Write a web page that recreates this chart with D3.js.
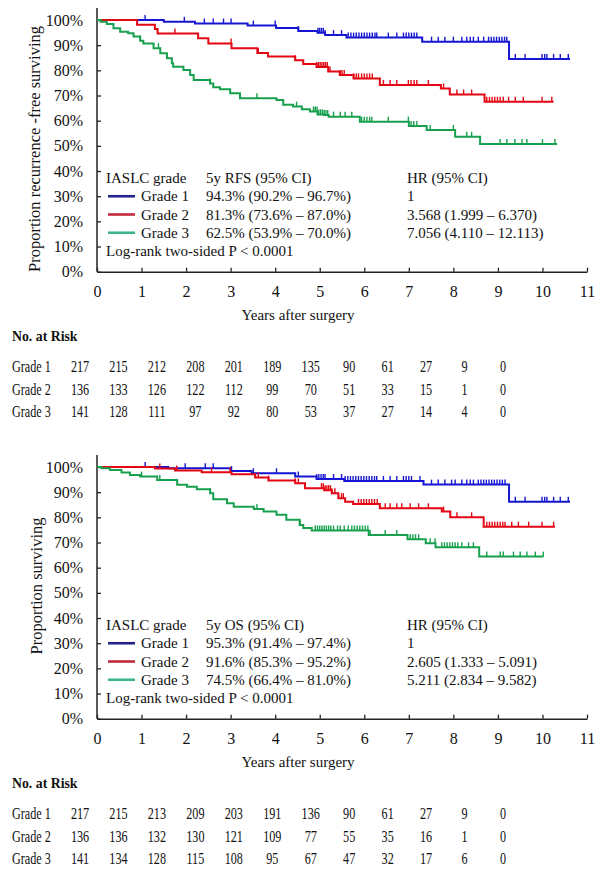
<!DOCTYPE html>
<html><head><meta charset="utf-8">
<script src="https://cdn.jsdelivr.net/npm/d3@7"></script>
<style>
body{margin:0;background:#fff}
svg{display:block}
text{font-family:"Liberation Serif","Times New Roman",serif;fill:#111}
</style>
</head><body>
<svg id="chart" width="608" height="876"></svg>
<script>
// ---------- shared ----------
const xTicks = [0,1,2,3,4,5,6,7,8,9,10,11];
const yTicks = [0,10,20,30,40,50,60,70,80,90,100];
const gradeNames = ["Grade 1","Grade 2","Grade 3"];
const riskTimes = [0,1,2,3,4,5,6,7,8,9,10,11];

// ---------- Panel A: recurrence-free survival ----------
const rfsG1Time = [0,1.50,2.20,3.38,4.02,4.52,4.95,5.12,5.60,7.30,9.25];
const rfsG1Surv = [100,99.3,98.6,97.8,96.8,95.6,94.9,94.0,93.0,91.4,84.5];
const rfsG1End = 10.62;
const rfsG1Cens = [1.08,1.96,2.41,2.61,2.84,3.01,3.51,4.00,4.52,4.96,5.00,5.04,5.08,5.12,5.31,5.49,5.64,5.70,5.76,5.82,5.88,5.94,6.00,6.06,6.12,6.18,6.24,6.28,6.54,6.73,6.88,6.94,7.00,7.06,7.12,7.18,7.51,7.66,7.81,8.00,8.19,8.30,8.38,8.45,8.56,8.68,8.79,8.85,8.91,8.97,9.03,9.09,9.15,9.20,9.39,9.61,9.99,10.05,10.10,10.25,10.40,10.58];

const rfsG2Time = [0,0.90,1.30,1.36,2.27,2.50,3.02,3.60,3.84,4.45,4.63,4.93,5.19,5.45,5.76,6.35,7.72,7.92,8.70];
const rfsG2Surv = [100,98.1,96.4,94.6,92.7,90.7,88.8,86.9,85.5,84.0,82.5,81.3,79.5,78.1,76.8,74.2,72.8,70.4,67.5];
const rfsG2End = 10.25;
const rfsG2Cens = [1.75,3.01,3.62,4.45,4.93,4.97,5.01,5.05,5.09,5.13,5.17,5.23,5.46,5.50,5.55,5.76,5.82,5.87,5.94,6.00,6.06,6.12,6.18,6.43,6.58,6.73,6.99,7.05,7.12,7.18,7.44,7.78,8.08,8.23,8.41,8.75,8.81,8.87,8.93,8.99,9.05,9.12,9.24,9.39,9.57,9.99,10.21];

const rfsG3Time = [0,0.08,0.22,0.37,0.52,0.70,0.82,0.97,1.04,1.27,1.42,1.57,1.68,1.71,1.94,2.09,2.17,2.54,2.61,2.76,2.99,3.21,4.03,4.18,4.40,4.60,4.78,4.95,5.10,5.20,5.90,7.00,7.40,8.04,8.60];
const rfsG3Surv = [100,99.3,98.4,96.7,95.3,94.7,93.4,91.8,90.7,88.8,86.8,84.8,82.8,81.4,80.1,78.1,76.2,74.8,73.3,72.5,70.9,68.9,68.2,66.3,65.6,64.5,63.6,62.5,62.3,61.6,59.6,57.9,56.3,53.6,50.7];
const rfsG3End = 10.33;
const rfsG3Cens = [0.97,1.38,2.54,3.59,4.48,4.86,4.90,4.94,4.98,5.02,5.06,5.10,5.14,5.18,5.31,5.46,5.57,5.72,5.94,6.00,6.06,6.12,6.17,6.54,6.99,7.05,7.11,7.18,7.48,8.00,8.30,8.41,9.05,9.20,9.38,9.54,9.65,10.00,10.28];

const rfsRisk1 = [217,215,212,208,201,189,135,90,61,27,9,0];
const rfsRisk2 = [136,133,126,122,112,99,70,51,33,15,1,0];
const rfsRisk3 = [141,128,111,97,92,80,53,37,27,14,4,0];
const rfsEst = ["94.3% (90.2% – 96.7%)","81.3% (73.6% – 87.0%)","62.5% (53.9% – 70.0%)"];
const rfsHR = ["1","3.568 (1.999 – 6.370)","7.056 (4.110 – 12.113)"];

// ---------- Panel B: overall survival ----------
const osG1Time = [0,1.60,3.00,3.47,4.45,4.93,5.55,7.33,9.25];
const osG1Surv = [100,99.5,98.4,97.5,96.2,95.2,94.4,93.0,86.2];
const osG1End = 10.62;
const osG1Cens = [1.08,1.98,2.43,2.61,3.02,3.51,4.03,4.52,4.93,4.98,5.03,5.08,5.12,5.31,5.49,5.57,5.63,5.69,5.75,5.81,5.87,5.93,5.99,6.05,6.11,6.17,6.23,6.28,6.43,6.58,6.73,6.88,6.94,7.00,7.06,7.25,7.51,7.66,7.81,7.96,8.04,8.19,8.30,8.38,8.45,8.56,8.62,8.68,8.74,8.80,8.86,8.92,8.98,9.04,9.10,9.16,9.39,9.61,9.99,10.05,10.10,10.25,10.40,10.58];

const osG2Time = [0,1.30,1.75,2.35,3.02,3.55,3.85,4.45,4.67,5.10,5.27,5.42,5.57,5.75,6.35,7.74,7.93,8.68];
const osG2Surv = [100,99.4,98.6,97.9,97.1,95.8,94.6,93.5,91.6,90.8,89.6,87.6,86.2,85.3,83.6,82.3,80.0,76.3];
const osG2End = 10.28;
const osG2Cens = [1.41,1.79,2.57,2.99,3.62,3.85,4.45,4.52,5.04,5.08,5.12,5.16,5.20,5.24,5.27,5.34,5.42,5.49,5.53,5.87,5.93,5.99,6.05,6.11,6.17,6.23,6.29,6.47,6.58,6.73,6.84,7.03,7.22,7.44,7.78,8.08,8.41,8.75,8.81,8.87,8.93,8.99,9.05,9.11,9.16,9.31,9.46,9.69,9.99,10.25];

const osG3Time = [0,0.10,0.29,0.55,0.74,0.97,1.35,1.80,2.02,2.24,2.54,2.61,2.92,3.07,3.52,3.74,4.03,4.25,4.55,4.63,4.82,6.10,6.97,7.38,7.60,8.58];
const osG3Surv = [100,99.5,98.8,97.8,96.8,96.2,94.8,92.9,92.2,91.2,89.6,87.2,85.6,84.2,83.3,82.3,81.0,79.0,77.0,75.8,74.8,73.0,71.3,69.7,68.1,64.4];
const osG3End = 10.02;
const osG3Cens = [1.00,1.41,2.54,3.59,4.56,4.90,4.95,5.00,5.05,5.10,5.15,5.20,5.25,5.31,5.40,5.46,5.55,5.64,5.72,5.78,5.84,5.90,5.96,6.02,6.08,6.13,6.47,6.73,7.03,7.09,7.15,7.22,7.48,7.59,7.74,7.80,7.86,7.92,7.98,8.04,8.10,8.19,8.34,8.45,8.75,9.05,9.12,9.35,9.50,9.65,9.84,10.02];

const osRisk1 = [217,215,213,209,203,191,136,90,61,27,9,0];
const osRisk2 = [136,136,132,130,121,109,77,55,35,16,1,0];
const osRisk3 = [141,134,128,115,108,95,67,47,32,17,6,0];
const osEst = ["95.3% (91.4% – 97.4%)","91.6% (85.3% – 95.2%)","74.5% (66.4% – 81.0%)"];
const osHR = ["1","2.605 (1.333 – 5.091)","5.211 (2.834 – 9.582)"];

// ---------- styles ----------
const curveColors = ["#1616d2","#e30613","#17a04e"];
const legendColors = ["#23238c","#c02a3c","#3db48e"];

const svg = d3.select("#chart");

function drawPanel(cfg, off) {
  const x = d3.scaleLinear().domain([0, 11]).range([97, 587]);
  const y = d3.scaleLinear().domain([0, 100]).range([271.7 + off, 20 + off]);
  const g = svg.append("g");

  // y axis
  const ya = g.append("g").attr("transform", "translate(97,0)")
    .call(d3.axisLeft(y).tickValues(yTicks).tickFormat(d => d + "%")
      .tickSizeInner(-4).tickSizeOuter(0).tickPadding(14));
  ya.select(".domain").remove();
  ya.selectAll(".tick line").attr("stroke", "#222").attr("stroke-width", 1.3);
  ya.selectAll("text").style("font-size", "16px").attr("fill", "#111");
  g.append("line").attr("x1", 97).attr("x2", 97)
    .attr("y1", y(100) - 12).attr("y2", y(0))
    .attr("stroke", "#222").attr("stroke-width", 1.5);

  // x axis
  const xa = g.append("g").attr("transform", `translate(0,${y(0)})`)
    .call(d3.axisBottom(x).tickValues(xTicks).tickFormat(d3.format("d"))
      .tickSizeInner(-4).tickSizeOuter(0).tickPadding(14));
  xa.select(".domain").attr("stroke", "#222").attr("stroke-width", 1.5);
  xa.selectAll(".tick line").attr("stroke", "#222").attr("stroke-width", 1.3);
  xa.selectAll("text").style("font-size", "16px").attr("fill", "#111");

  // axis titles
  g.append("text").attr("transform", `translate(${cfg.ylabX},${cfg.ylabY + off}) rotate(-90)`)
    .attr("text-anchor", "middle").style("font-size", "16.5px").text(cfg.ylabel);
  g.append("text").attr("x", 298).attr("y", 320 + off)
    .attr("text-anchor", "middle").style("font-size", "15px").text("Years after surgery");

  // curves
  const line = d3.line().x(d => x(d[0])).y(d => y(d[1])).curve(d3.curveStepAfter);
  cfg.series.forEach((s, i) => {
    const pts = s.t.map((t, k) => [t, s.s[k]]);
    pts.push([s.end, s.s[s.s.length - 1]]);
    g.append("path").datum(pts).attr("d", line)
      .attr("fill", "none").attr("stroke", curveColors[i]).attr("stroke-width", 2);
    const survAt = t => { let v = s.s[0]; s.t.forEach((tt, k) => { if (tt <= t) v = s.s[k]; }); return v; };
    g.append("g").selectAll("line").data(s.c).join("line")
      .attr("x1", d => x(d)).attr("x2", d => x(d))
      .attr("y1", d => y(survAt(d))).attr("y2", d => y(survAt(d)) - 5)
      .attr("stroke", curveColors[i]).attr("stroke-width", 1.4);
  });

  // legend
  const lb = 183 + off, ls = 18.25;
  g.append("text").attr("x", 106).attr("y", lb).style("font-size", "15px").text("IASLC grade");
  g.append("text").attr("x", 206).attr("y", lb).style("font-size", "15px").text(cfg.estHead);
  g.append("text").attr("x", 407).attr("y", lb).style("font-size", "15px").text("HR (95% CI)");
  gradeNames.forEach((nm, i) => {
    const by = lb + ls * (i + 1);
    g.append("line").attr("x1", 108).attr("x2", 135).attr("y1", by - 5).attr("y2", by - 5)
      .attr("stroke", legendColors[i]).attr("stroke-width", 2.6);
    g.append("text").attr("x", 141).attr("y", by).style("font-size", "15px").text(nm);
    g.append("text").attr("x", 206).attr("y", by).style("font-size", "15px").text(cfg.est[i]);
    g.append("text").attr("x", 407).attr("y", by).style("font-size", "15px").text(cfg.hr[i]);
  });
  g.append("text").attr("x", 106).attr("y", lb + ls * 4).style("font-size", "15px")
    .text("Log-rank two-sided P < 0.0001");

  // risk table
  g.append("text").attr("transform", `translate(12,${340.5 + off}) scale(0.92,1)`)
    .style("font-size", "15px").style("font-weight", "bold").text("No. at Risk");
  const rx = d3.scaleLinear().domain([0, 11]).range([80, 503]);
  const rowY = [371.5, 394.5, 417];
  cfg.risk.forEach((row, i) => {
    g.append("text").attr("transform", `translate(12,${rowY[i] + off}) scale(0.76,1)`)
      .style("font-size", "16px").text(gradeNames[i]);
    g.append("g").selectAll("text").data(row).join("text")
      .attr("transform", (d, k) => `translate(${rx(riskTimes[k])},${rowY[i] + off}) scale(0.76,1)`)
      .attr("text-anchor", "middle").style("font-size", "16px").text(d => d);
  });
}

drawPanel({
  ylabel: "Proportion recurrence -free surviving", ylabX: 40, ylabY: 149,
  estHead: "5y RFS (95% CI)", est: rfsEst, hr: rfsHR,
  series: [
    {t: rfsG1Time, s: rfsG1Surv, end: rfsG1End, c: rfsG1Cens},
    {t: rfsG2Time, s: rfsG2Surv, end: rfsG2End, c: rfsG2Cens},
    {t: rfsG3Time, s: rfsG3Surv, end: rfsG3End, c: rfsG3Cens}
  ],
  risk: [rfsRisk1, rfsRisk2, rfsRisk3]
}, 0);

drawPanel({
  ylabel: "Proportion surviving", ylabX: 42, ylabY: 139,
  estHead: "5y OS (95% CI)", est: osEst, hr: osHR,
  series: [
    {t: osG1Time, s: osG1Surv, end: osG1End, c: osG1Cens},
    {t: osG2Time, s: osG2Surv, end: osG2End, c: osG2Cens},
    {t: osG3Time, s: osG3Surv, end: osG3End, c: osG3Cens}
  ],
  risk: [osRisk1, osRisk2, osRisk3]
}, 447);
</script>
</body></html>
